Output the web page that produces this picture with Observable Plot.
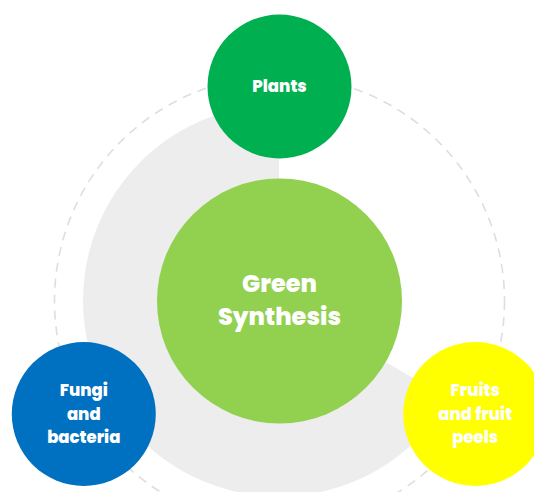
<!DOCTYPE html>
<html>
<head>
<meta charset="utf-8">
<script src="https://cdn.jsdelivr.net/npm/d3@7"></script>
<script src="https://cdn.jsdelivr.net/npm/@observablehq/plot@0.6"></script>
<style>
  html, body { margin: 0; padding: 0; background: #fff; }
  #chart svg { display: block; }
</style>
</head>
<body>
<div id="chart"></div>
<script>
// Diagram content
const centerLabel = "Green\nSynthesis";
const satelliteLabels = ["Plants", "Fungi\nand\nbacteria", "Fruits\nand fruit\npeels"];
const satelliteAngles = [0, 240, 120];      // degrees, clockwise from 12 o'clock
const satelliteDistances = [214.5, 226, 226];  // distance from the centre
const satelliteColors = ["#00B050", "#0070C0", "#FFFF00"];

const W = 534, H = 492;
const rad = Math.PI / 180;
const satellites = satelliteLabels.map((label, i) => ({
  label,
  x: satelliteDistances[i] * Math.sin(satelliteAngles[i] * rad),
  y: satelliteDistances[i] * Math.cos(satelliteAngles[i] * rad),
  color: satelliteColors[i]
}));
const center = [{label: centerLabel, x: 0, y: 0}];

const font = "Poppins, 'Open Sans', Inter, sans-serif";

// gray 240° sector behind the centre
const sector = (index, scales) => {
  const cx = scales.x(0), cy = scales.y(0);
  const path = d3.arc()({innerRadius: 0, outerRadius: 196, startAngle: 120 * rad, endAngle: 360 * rad});
  const g = d3.create("svg:g");
  g.append("path").attr("d", path).attr("transform", `translate(${cx},${cy})`).attr("fill", "#EDEDED");
  return g.node();
};

const chart = Plot.plot({
  width: W,
  height: H,
  margin: 0,
  x: {domain: [-279, W - 279], range: [0, W], axis: null},
  y: {domain: [300.5, 300.5 - H], range: [0, H], axis: null},
  style: {background: "#fff"},
  marks: [
    sector,
    Plot.dot(center, {x: "x", y: "y", r: 225, fill: "none", stroke: "#DEDEDE", strokeWidth: 1.6, strokeDasharray: "9,7"}),
    Plot.dot(satellites, {x: "x", y: "y", r: 72, fill: "color", stroke: "none"}),
    Plot.dot(center, {x: "x", y: "y", r: 122.5, fill: "#92D050", stroke: "none"}),
    Plot.text(satellites, {x: "x", y: "y", dy: -2, text: "label", fill: "#fff", fontSize: 16.5, fontWeight: 800, fontFamily: font, lineHeight: 1.42, lineAnchor: "middle"}),
    Plot.text(center, {x: "x", y: "y", dy: -3, text: "label", fill: "#fff", fontSize: 24, fontWeight: 800, fontFamily: font, lineHeight: 1.35, lineAnchor: "middle"})
  ]
});
document.getElementById("chart").appendChild(chart);
</script>
</body>
</html>
